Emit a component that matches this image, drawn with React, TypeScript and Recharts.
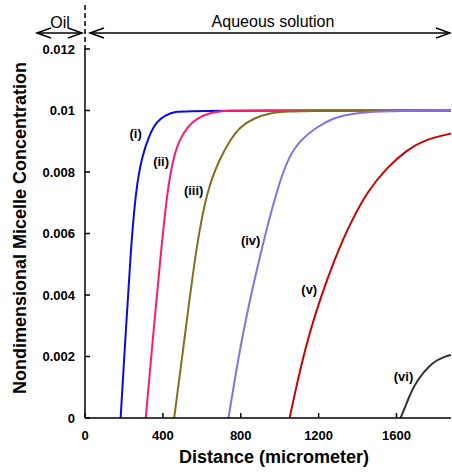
import React from 'react';
import { LineChart, Line, XAxis, YAxis, ReferenceDot } from 'recharts';

const xTicks = [0, 400, 800, 1200, 1600];
const yTicks = [0, 0.002, 0.004, 0.006, 0.008, 0.01, 0.012];

const curveI = [[183, 0], [209, 0.00276], [235, 0.00546], [261, 0.00741], [292, 0.0085], [334, 0.00926], [369, 0.00964], [412, 0.00985], [463, 0.00996], [530, 0.01], [1880, 0.01]];
const curveII = [[312, 0], [351, 0.00276], [391, 0.00546], [423, 0.00741], [455, 0.0085], [485, 0.00904], [526, 0.00947], [575, 0.00975], [634, 0.00991], [695, 0.00999], [800, 0.01], [1880, 0.01]];
const curveIII = [[458, 0], [515, 0.00276], [569, 0.00546], [626, 0.00741], [694, 0.00846], [746, 0.00904], [797, 0.00947], [866, 0.00975], [952, 0.00992], [1038, 0.00997], [1209, 0.01], [1880, 0.01]];
const curveIV = [[737, 0], [808, 0.00276], [905, 0.00546], [985, 0.00741], [1046, 0.0085], [1106, 0.00904], [1192, 0.00947], [1276, 0.00976], [1379, 0.00992], [1552, 0.00998], [1880, 0.01]];
const curveV = [[1051, 0], [1144, 0.00276], [1298, 0.00546], [1372, 0.00644], [1449, 0.00735], [1552, 0.00816], [1655, 0.00872], [1740, 0.00904], [1880, 0.00925]];
const curveVI = [[1621, 0], [1655, 0.00053], [1689, 0.00105], [1740, 0.00151], [1792, 0.00183], [1843, 0.00199], [1880, 0.00205]];

const seriesNames = ['(i)', '(ii)', '(iii)', '(iv)', '(v)', '(vi)'];
const seriesColors = ['#0a0ae6', '#ff1a70', '#80701e', '#8b6fe0', '#cc0000', '#333333'];
const seriesData = [curveI, curveII, curveIII, curveIV, curveV, curveVI];
const labelPos = [[260, 0.00927], [391, 0.00836], [558, 0.00741], [851, 0.00579], [1152, 0.00418], [1636, 0.00135]];

const FONT = '"Liberation Sans", Arial, Helvetica, sans-serif';

const toRows = (arr: number[][]) => arr.map(([d, c]) => ({ d, c }));

const ArrowHead = ({ x, y, dir }: { x: number; y: number; dir: number }) => (
  <polyline points={`${x + dir * 14},${y - 5} ${x},${y} ${x + dir * 14},${y + 5}`} fill="none" stroke="#000" strokeWidth={1.5} />
);

export default function App() {
  const tickStyle = { fontSize: 13, fontWeight: 'bold', fill: '#000', fontFamily: FONT };
  return (
    <div style={{ position: 'absolute', left: 0, top: 0, width: 452, height: 472, background: '#fff' }}>
      <LineChart width={452} height={472} margin={{ top: 49, right: 1, bottom: 0, left: 0 }}>
        <XAxis xAxisId="b" type="number" dataKey="d" domain={[0, 1880]} ticks={xTicks} allowDataOverflow
          orientation="bottom" height={54} tickSize={-5} tickMargin={18}
          axisLine={{ stroke: '#000', strokeWidth: 1.5 }} tickLine={{ stroke: '#000', strokeWidth: 1.5 }} tick={tickStyle} />
        <XAxis xAxisId="t" type="number" dataKey="d" domain={[0, 1880]} ticks={xTicks} allowDataOverflow
          orientation="top" height={0} tickSize={-5} tickFormatter={() => ''}
          axisLine={{ stroke: '#000', strokeWidth: 1.5 }} tickLine={{ stroke: '#000', strokeWidth: 1.5 }} />
        <YAxis yAxisId="l" type="number" domain={[0, 0.012]} ticks={yTicks} allowDataOverflow
          orientation="left" width={85} tickSize={-5} tickMargin={15}
          axisLine={{ stroke: '#000', strokeWidth: 1.5 }} tickLine={{ stroke: '#000', strokeWidth: 1.5 }} tick={tickStyle} />
        <YAxis yAxisId="r" type="number" domain={[0, 0.012]} ticks={yTicks} allowDataOverflow
          orientation="right" width={0} tickSize={-5} tickFormatter={() => ''}
          axisLine={{ stroke: '#000', strokeWidth: 1.5 }} tickLine={{ stroke: '#000', strokeWidth: 1.5 }} />
        {seriesData.map((s, i) => (
          <Line key={seriesNames[i]} xAxisId="b" yAxisId="l" data={toRows(s)} dataKey="c" type="basis"
            stroke={seriesColors[i]} strokeWidth={2} dot={false} activeDot={false} isAnimationActive={false} />
        ))}
        {labelPos.map(([d, c], i) => (
          <ReferenceDot key={'lbl' + i} xAxisId="b" yAxisId="l" x={d} y={c} r={0} fill="none" stroke="none"
            label={{ value: seriesNames[i], position: 'center', fontSize: 13, fontWeight: 'bold', fill: '#000', fontFamily: FONT }} />
        ))}
      </LineChart>
      <svg width={452} height={472} style={{ position: 'absolute', left: 0, top: 0, pointerEvents: 'none' }}>
        <line x1={85} y1={5} x2={85} y2={49} stroke="#000" strokeWidth={1.5} strokeDasharray="5 3" />
        <line x1={37} y1={33} x2={82} y2={33} stroke="#000" strokeWidth={1.5} />
        <ArrowHead x={37} y={33} dir={1} />
        <ArrowHead x={82} y={33} dir={-1} />
        <line x1={90} y1={33} x2={450} y2={33} stroke="#000" strokeWidth={1.5} />
        <ArrowHead x={90} y={33} dir={1} />
        <ArrowHead x={450} y={33} dir={-1} />
        <text x={60} y={28} textAnchor="middle" fontSize={16} fontFamily={FONT} fill="#000">Oil</text>
        <text x={273} y={27} textAnchor="middle" fontSize={16} fontFamily={FONT} fill="#000">Aqueous solution</text>
        <text x={274} y={463} textAnchor="middle" fontSize={18} fontWeight="bold" fontFamily={FONT} fill="#000">Distance (micrometer)</text>
        <text x={26} y={228} textAnchor="middle" fontSize={18} fontWeight="bold" fontFamily={FONT} fill="#000" transform="rotate(-90 26 228)">Nondimensional Micelle Concentration</text>
      </svg>
    </div>
  );
}
